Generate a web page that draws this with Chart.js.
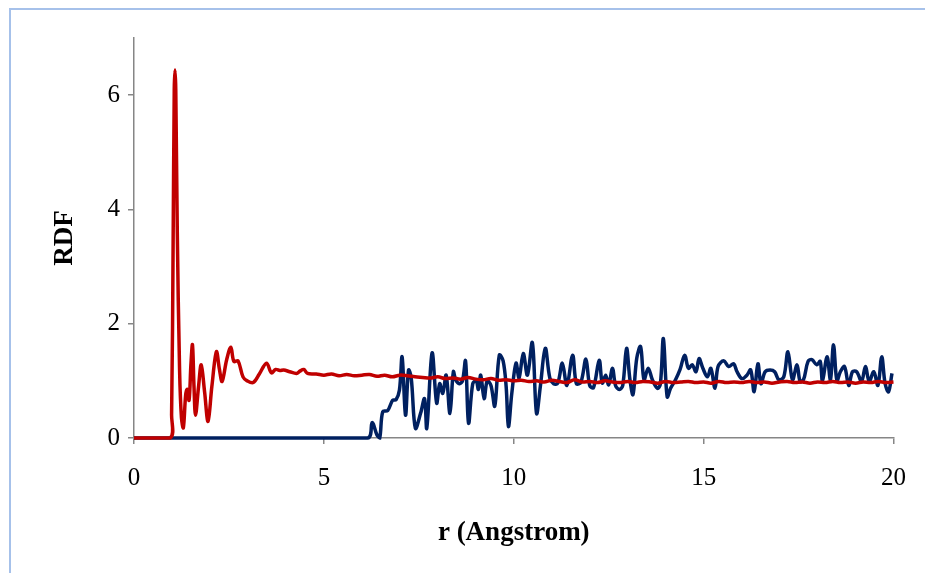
<!DOCTYPE html>
<html>
<head>
<meta charset="utf-8">
<script src="https://cdn.jsdelivr.net/npm/chart.js@4"></script>
<style>
    html, body { margin: 0; padding: 0; background: #fff; overflow: hidden; }
    #wrap { position: relative; width: 925px; height: 573px; }
    #frame {
        position: absolute; left: 9px; top: 8px; width: 1000px; height: 700px;
        border-top: 2px solid #a6c1ea; border-left: 2px solid #a6c1ea;
    }
    canvas { position: absolute; left: 0; top: 0; }
</style>
</head>
<body>
<div id="wrap">
    <div id="frame"></div>
    <canvas id="rdfChart" width="925" height="573"></canvas>
</div>
<script>
// Красная кривая: r (Å) и g(r)
const redR = [0, 0.95, 0.99, 1.03, 1.06, 1.08, 1.10, 1.14, 1.20, 1.25, 1.30, 1.36, 1.40, 1.45, 1.50, 1.54, 1.58, 1.62,
    1.70, 1.77, 1.86, 1.95, 2.05, 2.17, 2.25, 2.32, 2.44, 2.55, 2.63, 2.74, 2.87, 2.98, 3.14, 3.30,
    3.49, 3.62, 3.73, 3.84, 3.94, 4.10, 4.28, 4.37, 4.47, 4.57, 4.80, 5.0, 5.2, 5.4, 5.6, 5.8, 6.0,
    6.2, 6.4, 6.6, 6.8, 7.0, 7.2, 7.4, 7.6, 7.8, 8.0, 8.2, 8.4, 8.6, 8.8, 9.0, 9.2, 9.4, 9.6, 9.8,
    10.0, 10.2, 10.4, 10.6, 10.8, 11.0, 11.2, 11.4, 11.6, 11.8, 12.0, 12.2, 12.4, 12.6, 12.8, 13.0,
    13.2, 13.4, 13.6, 13.8, 14.0, 14.2, 14.4, 14.6, 14.8, 15.0, 15.2, 15.4, 15.6, 15.8, 16.0, 16.2,
    16.4, 16.6, 16.8, 17.0, 17.2, 17.4, 17.6, 17.8, 18.0, 18.2, 18.4, 18.6, 18.8, 19.0, 19.2, 19.4,
    19.6, 19.8, 20.0];
const redG = [0, 0, 0.4, 3.4, 6.1, 6.44, 6.1, 3.6, 1.2, 0.35, 0.18, 0.75, 0.85, 0.66, 1.3, 1.63, 0.9, 0.40,
    0.9, 1.28, 0.8, 0.29, 0.9, 1.51, 1.2, 0.99, 1.37, 1.59, 1.34, 1.35, 1.07, 1.00, 0.97, 1.12,
    1.31, 1.14, 1.20, 1.18, 1.19, 1.16, 1.13, 1.17, 1.20, 1.13, 1.12, 1.10, 1.12, 1.09, 1.11, 1.09, 1.10,
    1.11, 1.08, 1.10, 1.07, 1.10, 1.09, 1.07, 1.06, 1.05, 1.07, 1.04, 1.05, 1.03, 1.06, 1.03, 1.02, 1.04, 1.01, 1.02,
    1.00, 1.01, 0.99, 1.00, 0.98, 1.01, 0.99, 0.97, 1.02, 0.98, 0.99, 0.97, 1.00, 0.98, 0.97, 0.99,
    0.97, 0.99, 0.98, 0.96, 0.99, 0.97, 0.98, 0.99, 0.97, 0.98, 0.96, 0.99, 0.97, 0.98, 0.97, 0.99,
    0.97, 0.98, 0.96, 0.98, 0.99, 0.97, 0.98, 0.96, 0.98, 0.97, 0.99, 0.97, 0.98, 0.96, 0.98, 0.97,
    0.99, 0.97, 0.98];

// Синяя кривая
const blueR = [0, 6.15, 6.27, 6.40, 6.47, 6.55, 6.68, 6.81, 6.90, 6.99, 7.06, 7.15, 7.23, 7.30, 7.41,
    7.55, 7.65, 7.71, 7.85, 7.97, 8.05, 8.13, 8.22, 8.32, 8.41, 8.47, 8.57, 8.65, 8.73, 8.81, 8.92,
    9.01, 9.07, 9.13, 9.22, 9.30, 9.40, 9.50, 9.62, 9.72, 9.80, 9.86, 9.95, 10.06, 10.14, 10.25,
    10.36, 10.49, 10.60, 10.70, 10.83, 10.95, 11.05, 11.16, 11.28, 11.40, 11.55, 11.65, 11.77, 11.90,
    12.00, 12.10, 12.25, 12.33, 12.42, 12.50, 12.60, 12.68, 12.78, 12.87, 12.97, 13.06, 13.14, 13.24,
    13.34, 13.43, 13.54, 13.65, 13.78, 13.86, 13.94, 14.04, 14.13, 14.26, 14.38, 14.50, 14.60, 14.70,
    14.80, 14.88, 14.98, 15.10, 15.19, 15.30, 15.38, 15.53, 15.66, 15.79, 15.88, 16.01, 16.14, 16.24,
    16.33, 16.43, 16.51, 16.62, 16.75, 16.87, 16.98, 17.11, 17.22, 17.34, 17.46, 17.54, 17.63, 17.75,
    17.85, 17.98, 18.07, 18.13, 18.25, 18.34, 18.42, 18.51, 18.60, 18.71, 18.82, 18.92, 19.03, 19.16,
    19.26, 19.36, 19.48, 19.59, 19.69, 19.78, 19.87, 19.96];
const blueG = [0, 0, 0.27, 0.05, 0, 0.46, 0.48, 0.66, 0.67, 0.84, 1.42, 0.40, 1.19, 1.05, 0.17,
    0.44, 0.69, 0.17, 1.49, 0.61, 0.95, 0.78, 1.10, 0.43, 1.16, 1.02, 0.95, 1.00, 1.35, 0.26, 0.95,
    1.00, 0.85, 1.10, 0.69, 1.00, 0.92, 0.56, 1.45, 1.35, 0.90, 0.20, 0.79, 1.31, 1.05, 1.48,
    1.10, 1.67, 0.43, 0.90, 1.57, 1.05, 0.95, 0.96, 1.31, 0.92, 1.45, 0.95, 0.98, 1.38,
    0.92, 0.88, 1.36, 0.96, 1.10, 0.93, 1.22, 0.92, 0.85, 0.92, 1.57, 1.02, 0.76, 1.40,
    1.60, 1.02, 1.22, 1.02, 0.87, 0.94, 1.74, 0.72, 0.87, 1.02, 1.20, 1.45, 1.22, 1.28,
    1.16, 1.39, 1.22, 1.07, 1.22, 0.87, 1.25, 1.35, 1.25, 1.30, 1.16, 1.04, 1.10, 1.19,
    0.81, 1.30, 0.95, 1.16, 1.19, 1.16, 1.02, 1.07, 1.51, 1.02, 1.28, 0.99, 1.02, 1.34,
    1.37, 1.28, 1.34, 1.00, 1.42, 1.02, 1.63, 1.00, 1.16, 1.25, 0.92, 1.16, 1.16, 0.99,
    1.25, 0.99, 1.16, 0.92, 1.42, 0.95, 0.81, 1.13];

// Подписи осей и делений
const xTicks = [0, 5, 10, 15, 20];
const yTicks = [0, 2, 4, 6];
const xTitle = 'r (Angstrom)';
const yTitle = 'RDF';

document.addEventListener('DOMContentLoaded', () => {
    const serif = '"Liberation Serif", "Times New Roman", serif';
    const axisGray = '#868686';

    const toPoints = (xs, ys) => xs.map((x, i) => ({ x, y: ys[i] }));

    const ctx = document.getElementById('rdfChart').getContext('2d');
    new Chart(ctx, {
        type: 'scatter',
        data: {
            datasets: [
                {
                    label: 'blue',
                    data: toPoints(blueR, blueG),
                    showLine: true,
                    borderColor: '#002060',
                    borderWidth: 3.5,
                    pointRadius: 0,
                    tension: 0.35,
                    clip: 8,
                    order: 2
                },
                {
                    label: 'red',
                    data: toPoints(redR, redG),
                    showLine: true,
                    borderColor: '#c00000',
                    borderWidth: 3.5,
                    pointRadius: 0,
                    tension: 0.35,
                    clip: 8,
                    order: 1
                }
            ]
        },
        options: {
            responsive: false,
            animation: false,
            devicePixelRatio: 1,
            layout: { padding: { top: 38, right: 24, left: 0, bottom: 0 } },
            plugins: { legend: { display: false }, tooltip: { enabled: false } },
            scales: {
                x: {
                    type: 'linear',
                    min: 0,
                    max: 20,
                    afterBuildTicks: scale => { scale.ticks = xTicks.map(v => ({ value: v })); },
                    afterFit: scale => { scale.height = 135; },
                    grid: { drawOnChartArea: false, drawTicks: true, tickLength: 6, color: axisGray, lineWidth: 1.5 },
                    border: { color: axisGray, width: 1.5 },
                    ticks: { color: '#000', padding: 19, font: { family: serif, size: 25 }, maxRotation: 0 },
                    title: {
                        display: true,
                        text: xTitle,
                        color: '#000',
                        padding: { top: 0, bottom: 24 },
                        font: { family: serif, size: 27, weight: 'bold' }
                    }
                },
                y: {
                    type: 'linear',
                    min: 0,
                    max: 7,
                    afterBuildTicks: scale => { scale.ticks = yTicks.map(v => ({ value: v })); },
                    afterFit: scale => { scale.width = 134; },
                    grid: { drawOnChartArea: false, drawTicks: true, tickLength: 6, color: axisGray, lineWidth: 1.5 },
                    border: { color: axisGray, width: 1.5 },
                    ticks: { color: '#000', padding: 8, font: { family: serif, size: 25 } },
                    title: {
                        display: true,
                        text: yTitle,
                        color: '#000',
                        padding: { top: 49, bottom: 0 },
                        font: { family: serif, size: 27, weight: 'bold' }
                    }
                }
            }
        }
    });
});
</script>
</body>
</html>
